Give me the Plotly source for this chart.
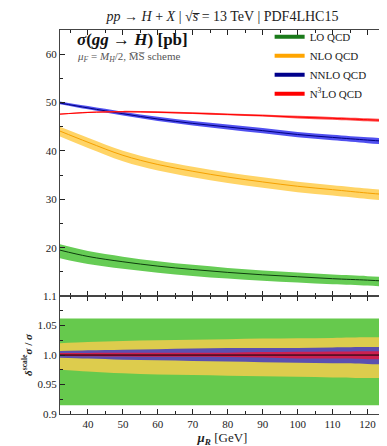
import plotly.graph_objects as go

# renormalisation scale points (GeV)
mu_r = [32, 40, 50, 60, 70, 80, 90, 100, 110, 120, 125]

# central cross sections [pb]
xs_lo = [19.5, 18.2, 17.1, 16.2, 15.5, 14.9, 14.4, 14.0, 13.6, 13.3, 13.1]
xs_nlo = [44.1, 41.8, 39.1, 37.2, 35.8, 34.6, 33.6, 32.7, 32.0, 31.3, 31.0]
xs_nnlo = [49.9, 48.9, 47.7, 46.6, 45.7, 44.95, 44.2, 43.4, 42.8, 42.25, 42.0]
xs_n3lo = [47.6, 47.95, 48.1, 48.0, 47.8, 47.55, 47.3, 47.0, 46.75, 46.45, 46.3]

# scale uncertainty, relative (upper / lower)
lo_hi = [1.062, 1.062, 1.062, 1.062, 1.062, 1.062, 1.062, 1.062, 1.062, 1.062, 1.062]
lo_lo = [0.915, 0.915, 0.915, 0.915, 0.915, 0.915, 0.915, 0.915, 0.915, 0.915, 0.915]
nlo_hi = [1.020, 1.022, 1.024, 1.025, 1.026, 1.027, 1.028, 1.0285, 1.029, 1.030, 1.030]
nlo_lo = [0.975, 0.972, 0.969, 0.967, 0.966, 0.965, 0.964, 0.963, 0.962, 0.961, 0.961]
nnlo_hi = [1.0067, 1.008, 1.009, 1.010, 1.011, 1.012, 1.012, 1.012, 1.013, 1.0135, 1.014]
nnlo_lo = [0.9955, 0.994, 0.992, 0.991, 0.990, 0.989, 0.988, 0.987, 0.986, 0.985, 0.984]
n3lo_hi = [1.0034, 1.0036, 1.0038, 1.004, 1.004, 1.004, 1.005, 1.0055, 1.006, 1.0065, 1.0067]
n3lo_lo = [0.999, 0.998, 0.9975, 0.997, 0.997, 0.9966, 0.996, 0.9943, 0.994, 0.993, 0.9926]

orders = [
    # name, central, hi, lo, band top, line top, band ratio, legend colour
    ('LO QCD', xs_lo, lo_hi, lo_lo, '#66cc55', '#0d3d0d', '#66c94d', '#1a7a1a'),
    ('NLO QCD', xs_nlo, nlo_hi, nlo_lo, '#ffd466', '#f5a000', '#ddcc4d', '#ffa500'),
    ('NNLO QCD', xs_nnlo, nnlo_hi, nnlo_lo, '#5050f0', '#000080', '#5b50b0', '#00008b'),
    ('N<sup>3</sup>LO QCD', xs_n3lo, n3lo_hi, n3lo_lo, '#ff5050', '#ff0000', '#cc2050', '#ff0000'),
]

SERIF = 'Liberation Serif'

fig = go.Figure()

for i, (name, c, hi, lo, band, line, rband, legc) in enumerate(orders):
    up = [v * h for v, h in zip(c, hi)]
    dn = [v * l for v, l in zip(c, lo)]
    # top panel band
    fig.add_trace(go.Scatter(x=mu_r, y=dn, mode='lines', line=dict(width=0, shape='spline'),
                             showlegend=False, hoverinfo='skip', xaxis='x', yaxis='y'))
    fig.add_trace(go.Scatter(x=mu_r, y=up, mode='lines', line=dict(width=0, shape='spline'),
                             fill='tonexty', fillcolor=band, showlegend=False,
                             hoverinfo='skip', xaxis='x', yaxis='y'))
    fig.add_trace(go.Scatter(x=mu_r, y=c, mode='lines', line=dict(width=1, color=line, shape='spline'),
                             showlegend=False, xaxis='x', yaxis='y'))
    # ratio panel band
    fig.add_trace(go.Scatter(x=mu_r, y=lo, mode='lines', line=dict(width=0, shape='spline'),
                             showlegend=False, hoverinfo='skip', xaxis='x2', yaxis='y2'))
    fig.add_trace(go.Scatter(x=mu_r, y=hi, mode='lines', line=dict(width=0, shape='spline'),
                             fill='tonexty', fillcolor=rband, showlegend=False,
                             hoverinfo='skip', xaxis='x2', yaxis='y2'))
    # legend entry
    fig.add_trace(go.Scatter(x=[None], y=[None], mode='lines', name=name,
                             line=dict(width=4, color=legc),
                             xaxis='x', yaxis='y'))

fig.add_trace(go.Scatter(x=[mu_r[0], mu_r[-1]], y=[1, 1], mode='lines',
                         line=dict(width=1, color='black'), showlegend=False,
                         xaxis='x2', yaxis='y2'))

axis_common = dict(
    range=[32, 125], showline=True, linecolor='#444', linewidth=1.2, mirror='ticks',
    ticks='inside', ticklen=5, tickcolor='#222', showgrid=False, zeroline=False,
    tickfont=dict(family=SERIF, size=11, color='#222'),
)

fig.update_layout(
    width=387, height=446,
    margin=dict(l=52, r=10, t=22, b=40),
    plot_bgcolor='white', paper_bgcolor='white',
    font=dict(family=SERIF, color='#222'),
    title=dict(text='<i>pp</i> → <i>H</i> + <i>X</i> | √<i>s̅</i> = 13 TeV | PDF4LHC15',
               x=0.5, xref='paper', xanchor='center', y=0.992, yanchor='top',
               font=dict(family=SERIF, size=14, color='#222')),
    xaxis=dict(axis_common, anchor='y', showticklabels=False,
               tickvals=list(range(40, 121, 10)),
               minor=dict(ticks='inside', ticklen=3, tickvals=list(range(35, 126, 10)), tickcolor='#222')),
    yaxis=dict(axis_common, domain=[0.307, 1], range=[10, 65], anchor='x',
               tickvals=[20, 30, 40, 50, 60],
               minor=dict(ticks='inside', ticklen=3, tickvals=[15, 25, 35, 45, 55], tickcolor='#222')),
    xaxis2=dict(axis_common, anchor='y2',
                tickvals=list(range(40, 121, 10)),
                minor=dict(ticks='inside', ticklen=3, tickvals=list(range(35, 126, 10)), tickcolor='#222'),
                title=dict(text='<b><i>μ<sub>R</sub></i></b> [GeV]', standoff=0,
                           font=dict(family=SERIF, size=13))),
    yaxis2=dict(axis_common, domain=[0, 0.307], range=[0.9, 1.1], anchor='x2',
                tickvals=[0.9, 0.95, 1.0, 1.05, 1.1],
                ticktext=['0.9', '0.95', '1.0', '1.05', '1.1'],
                minor=dict(ticks='inside', ticklen=3, tickvals=[0.925, 0.975, 1.025, 1.075], tickcolor='#222'),
                title=dict(text='<b><i>δ</i><sup>scale</sup><i>σ</i> / <i>σ</i></b>', standoff=2,
                           font=dict(family=SERIF, size=11))),
    legend=dict(x=0.645, y=1.02, xanchor='left', yanchor='top', bgcolor='rgba(0,0,0,0)',
                font=dict(family=SERIF, size=11, color='#222'), itemwidth=30,
                traceorder='normal'),
    showlegend=True,
    annotations=[
        dict(text='<b><i>σ</i>(<i>gg</i> → <i>H</i>) [pb]</b>', xref='paper', yref='paper',
             x=0.045, y=0.976, xanchor='left', yanchor='middle', showarrow=False,
             font=dict(family=SERIF, size=17, color='#111')),
        dict(text='<i>μ<sub>F</sub></i> = <i>M<sub>H</sub></i>/2, M̅S̅ scheme', xref='paper', yref='paper',
             x=0.045, y=0.929, xanchor='left', yanchor='middle', showarrow=False,
             font=dict(family=SERIF, size=11, color='#555')),
    ],
)

fig.write_html('out.html')
